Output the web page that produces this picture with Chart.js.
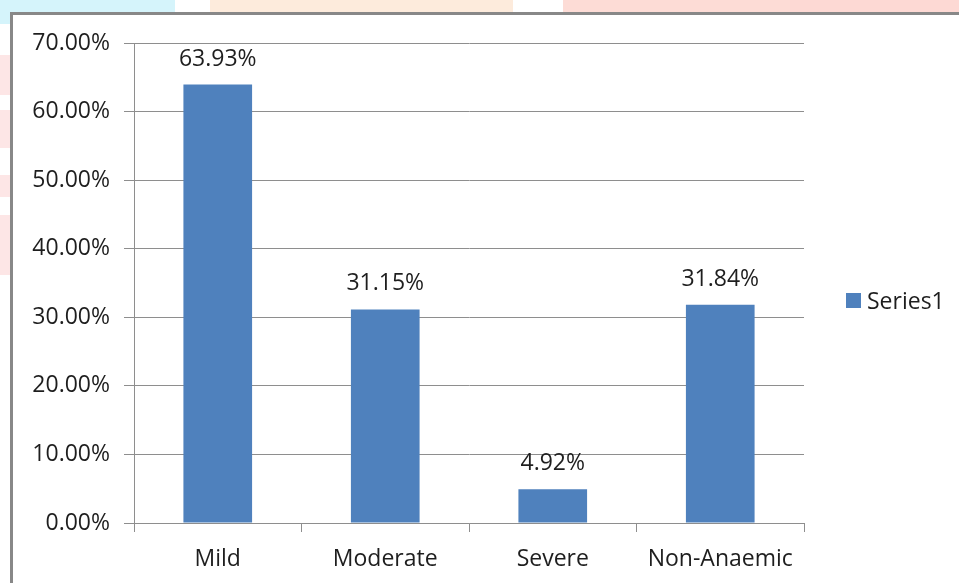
<!DOCTYPE html>
<html>
<head>
<meta charset="utf-8">
<script src="https://cdn.jsdelivr.net/npm/chart.js@4.4.1/dist/chart.umd.min.js"></script>
<style>
  html, body { margin: 0; padding: 0; background: #fff; }
  body { width: 959px; height: 583px; position: relative; overflow: hidden; font-family: "Open Sans", sans-serif; }
  .wm { position: absolute; }
  #frame { position: absolute; left: 10px; top: 12px; width: 1000px; height: 700px; border: 3px solid #888; background: #fff; box-sizing: border-box; }
  #chartWrap { position: absolute; left: 0; top: 0; width: 959px; height: 583px; }
  #legend { position: absolute; left: 846px; top: 284px; font-size: 23px; color: #1e1e1e; display: flex; align-items: center; }
  #legend span.box { display: inline-block; width: 15px; height: 15px; background: #4f81bd; margin-right: 6px; }
</style>
</head>
<body>
<!-- faint watermark strips behind the frame -->
<div class="wm" style="left:0;top:0;width:175px;height:14px;background:#d5f4fb"></div>
<div class="wm" style="left:210px;top:0;width:303px;height:14px;background:#fdebdc"></div>
<div class="wm" style="left:563px;top:0;width:227px;height:14px;background:#fddcd6"></div>
<div class="wm" style="left:790px;top:0;width:169px;height:14px;background:#fdd9d4"></div>
<div class="wm" style="left:0;top:0;width:10px;height:24px;background:#d5f4fb"></div>
<div class="wm" style="left:0;top:55px;width:10px;height:40px;background:#fde6e6"></div>
<div class="wm" style="left:0;top:110px;width:10px;height:38px;background:#fde6e6"></div>
<div class="wm" style="left:0;top:175px;width:10px;height:22px;background:#fde6e6"></div>
<div class="wm" style="left:0;top:215px;width:10px;height:60px;background:#fde6e6"></div>
<div id="frame"></div>
<div id="chartWrap"><canvas id="chart" width="959" height="583"></canvas></div>
<div id="legend"><span class="box"></span>Series1</div>
<script>
const categories = ["Mild", "Moderate", "Severe", "Non-Anaemic"];
const series1 = [63.93, 31.15, 4.92, 31.84];
const valueLabels = ["63.93%", "31.15%", "4.92%", "31.84%"];
const yTicks = [0, 10, 20, 30, 40, 50, 60, 70];

const textColor = "#1e1e1e";
const gridColor = "#8e8e8e";

// labels above each bar
const barLabels = {
    id: "barLabels",
    afterDatasetsDraw(chart) {
        const ctx = chart.ctx;
        const meta = chart.getDatasetMeta(0);
        ctx.save();
        ctx.font = "23px 'Open Sans'";
        ctx.fillStyle = textColor;
        ctx.textAlign = "center";
        ctx.textBaseline = "alphabetic";
        meta.data.forEach((bar, i) => {
            ctx.fillText(valueLabels[i], bar.x, bar.y - 19);
        });
        ctx.restore();
    }
};

Chart.defaults.font.family = "'Open Sans'";
Chart.defaults.font.size = 23;
Chart.defaults.color = textColor;

new Chart(document.getElementById("chart"), {
    type: "bar",
    data: {
        labels: categories,
        datasets: [{
            label: "Series1",
            data: series1,
            backgroundColor: "#4f81bd",
            borderWidth: 0,
            barPercentage: 0.41,
            categoryPercentage: 1
        }]
    },
    options: {
        responsive: false,
        animation: false,
        layout: { padding: { top: 43, right: 155, left: 0, bottom: 0 } },
        plugins: {
            legend: { display: false },
            tooltip: { enabled: false }
        },
        scales: {
            x: {
                grid: { drawOnChartArea: false, offset: true, tickLength: 9, color: gridColor },
                border: { color: gridColor, width: 1 },
                ticks: { padding: 14, color: textColor },
                afterFit(scale) { scale.height = 60; }
            },
            y: {
                min: 0,
                max: 70,
                afterBuildTicks(scale) { scale.ticks = yTicks.map(v => ({ value: v })); },
                grid: { color: gridColor, tickLength: 10, lineWidth: 1 },
                border: { color: gridColor, width: 1 },
                ticks: {
                    padding: 14,
                    color: textColor,
                    callback: v => v.toFixed(2) + "%"
                },
                afterFit(scale) { scale.width = 134; }
            }
        }
    },
    plugins: [barLabels]
});
</script>
</body>
</html>
